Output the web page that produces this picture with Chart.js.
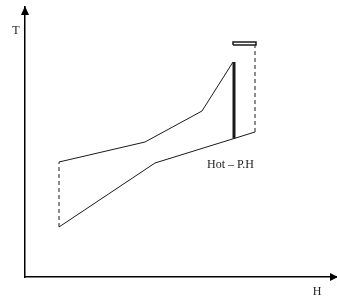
<!DOCTYPE html>
<html>
<head>
<meta charset="utf-8">
<script src="https://cdn.jsdelivr.net/npm/chart.js@4/dist/chart.umd.min.js"></script>
<style>
  html, body { margin: 0; padding: 0; background: #fff; }
  #wrap { width: 337px; height: 303px; }
</style>
</head>
<body>
<div id="wrap"><canvas id="myChart"></canvas></div>
<script>
// enthalpy (H) and temperature (T) in arbitrary units
const hotH = [34, 120, 177, 208];
const hotT = [115, 135, 166, 215];
const coldH = [34, 130, 230];
const coldT = [50, 114, 145];
const utilityH = [209, 209];
const utilityT = [138.5, 215];
const leftGapH = [34, 34];
const leftGapT = [50, 115];
const rightGapH = [230, 230];
const rightGapT = [145, 232];
const boxH = [208, 231, 231, 208, 208];
const boxT = [232, 232, 235, 235, 232];
const labelText = 'Hot \u2013 P.H';
const labelPos = [182, 109];

const pts = (xs, ys) => xs.map((x, i) => ({ x: x, y: ys[i] }));
const serif = '"Liberation Serif", "DejaVu Serif", serif';

const lineSet = (data, width, dash) => ({
    data: data,
    showLine: true,
    borderColor: '#1a1a1a',
    borderWidth: width,
    borderDash: dash || [],
    pointRadius: 0,
    fill: false,
    tension: 0
});

const axisArrows = {
    id: 'axisArrows',
    afterDraw(chart) {
        const { ctx, chartArea: a, scales } = chart;
        ctx.save();
        ctx.fillStyle = '#000';
        // up arrow on T axis
        ctx.beginPath();
        ctx.moveTo(a.left, a.top - 1);
        ctx.lineTo(a.left - 4, a.top + 8);
        ctx.lineTo(a.left + 4, a.top + 8);
        ctx.closePath();
        ctx.fill();
        // right arrow on H axis
        ctx.beginPath();
        ctx.moveTo(a.right + 1, a.bottom);
        ctx.lineTo(a.right - 7, a.bottom - 4);
        ctx.lineTo(a.right - 7, a.bottom + 4);
        ctx.closePath();
        ctx.fill();
        ctx.fillStyle = '#222';
        ctx.font = '12px ' + serif;
        ctx.textAlign = 'center';
        ctx.textBaseline = 'alphabetic';
        ctx.fillText('T', a.left - 9, 34);
        ctx.fillText('H', a.right - 20, a.bottom + 18);
        ctx.textAlign = 'left';
        ctx.fillText(labelText, scales.x.getPixelForValue(labelPos[0]), scales.y.getPixelForValue(labelPos[1]));
        ctx.restore();
    }
};

const ctx = document.getElementById('myChart').getContext('2d');
const myChart = new Chart(ctx, {
    type: 'scatter',
    data: {
        datasets: [
            lineSet(pts(hotH, hotT), 1),
            lineSet(pts(coldH, coldT), 1),
            lineSet(pts(utilityH, utilityT), 3),
            lineSet(pts(leftGapH, leftGapT), 1, [4, 3]),
            lineSet(pts(rightGapH, rightGapT), 1, [4, 3]),
            lineSet(pts(boxH, boxT), 1.5)
        ]
    },
    options: {
        responsive: true,
        maintainAspectRatio: false,
        animation: false,
        layout: { padding: { left: 25, top: 7, right: 0, bottom: 26 } },
        plugins: { legend: { display: false }, tooltip: { enabled: false } },
        scales: {
            x: {
                type: 'linear', min: 0, max: 312,
                grid: { display: false },
                ticks: { display: false },
                border: { color: '#000', width: 1.5 },
                afterFit(s) { s.height = 0; }
            },
            y: {
                type: 'linear', min: 0, max: 270,
                grid: { display: false },
                ticks: { display: false },
                border: { color: '#000', width: 1.5 },
                afterFit(s) { s.width = 0; }
            }
        }
    },
    plugins: [axisArrows]
});
</script>
</body>
</html>
